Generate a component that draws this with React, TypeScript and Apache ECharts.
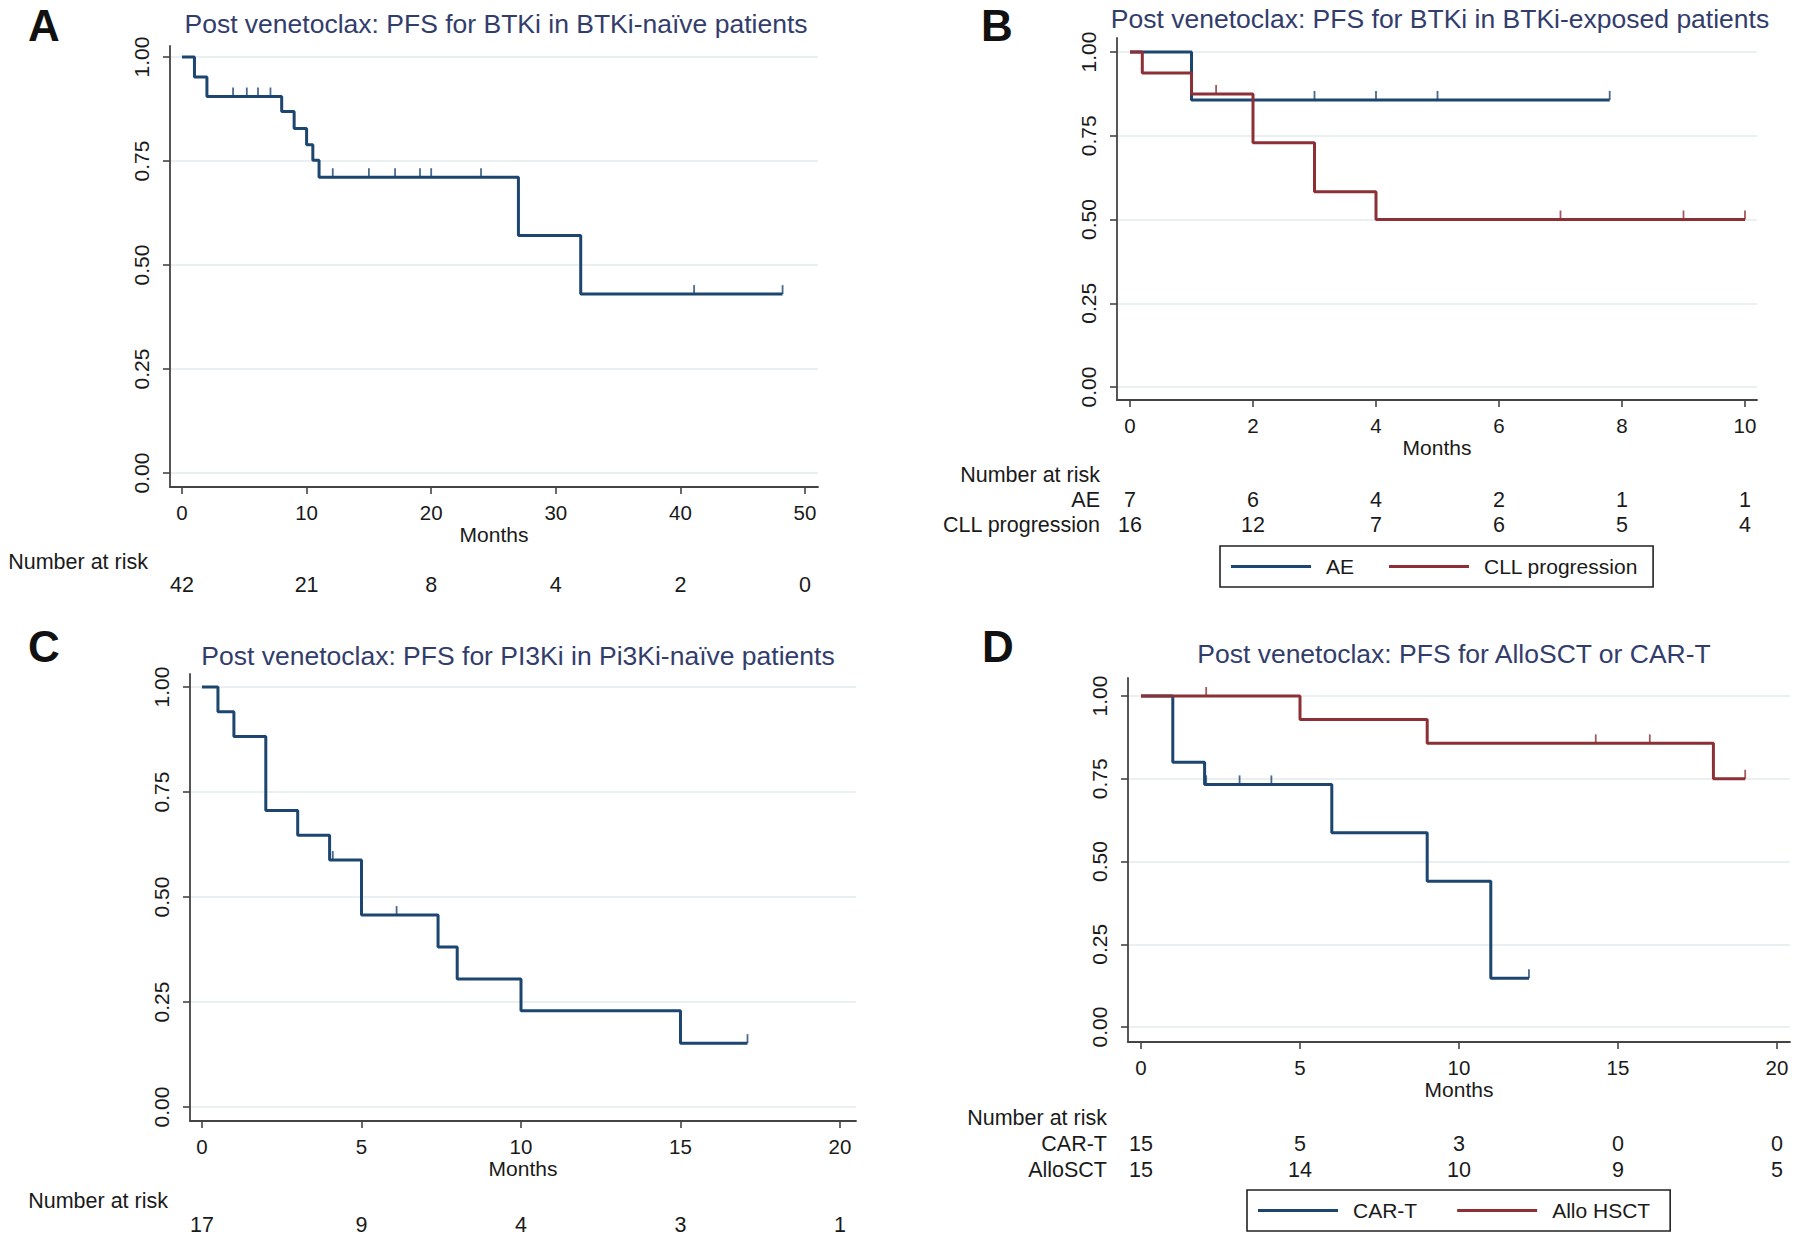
import React, { useEffect, useRef } from 'react';
import * as echarts from 'echarts';

// ---------- DATA ----------
// Panel A: BTKi in BTKi-naive
const aTimes = [0, 1, 2, 8, 9, 10, 10.5, 11, 27, 32, 48.2];
const aSurv = [1, 0.952, 0.905, 0.869, 0.828, 0.789, 0.752, 0.711, 0.571, 0.43, 0.43];
const aCensor = [4.1, 5.2, 6.1, 7.1, 12.1, 15.0, 17.1, 19.1, 20.0, 24.0, 41.1, 48.2];
const aRiskX = [0, 10, 20, 30, 40, 50];
const aRisk = [42, 21, 8, 4, 2, 0];

// Panel B: BTKi in BTKi-exposed
const bAeTimes = [0, 1, 7.8];
const bAeSurv = [1, 0.857, 0.857];
const bAeCensor = [3, 4, 5, 7.8];
const bCllTimes = [0, 0.2, 1, 2, 3, 4, 10];
const bCllSurv = [1, 0.9375, 0.875, 0.729, 0.583, 0.5, 0.5];
const bCllCensor = [1.4, 3, 7, 9, 10];
const bRiskX = [0, 2, 4, 6, 8, 10];
const bAeRisk = [7, 6, 4, 2, 1, 1];
const bCllRisk = [16, 12, 7, 6, 5, 4];

// Panel C: PI3Ki in PI3Ki-naive
const cTimes = [0, 0.5, 1, 2, 3, 4, 5, 7.4, 8, 10, 15, 17.1];
const cSurv = [1, 0.941, 0.882, 0.706, 0.647, 0.588, 0.457, 0.381, 0.305, 0.229, 0.152, 0.152];
const cCensor = [4.1, 6.1, 17.1];
const cRiskX = [0, 5, 10, 15, 20];
const cRisk = [17, 9, 4, 3, 1];

// Panel D: AlloSCT or CAR-T
const dCarTimes = [0, 1, 2, 6, 9, 11, 12.2];
const dCarSurv = [1, 0.8, 0.733, 0.587, 0.44, 0.147, 0.147];
const dCarCensor = [2.05, 3.1, 4.1, 12.2];
const dAlloTimes = [0, 5, 9, 18, 19];
const dAlloSurv = [1, 0.929, 0.857, 0.75, 0.75];
const dAlloCensor = [2.05, 14.3, 16, 19];
const dRiskX = [0, 5, 10, 15, 20];
const dCarRisk = [15, 5, 3, 0, 0];
const dAlloRisk = [15, 14, 10, 9, 5];

const yTicks = [0, 0.25, 0.5, 0.75, 1];
const titles = [
  'Post venetoclax: PFS for BTKi in BTKi-naïve patients',
  'Post venetoclax: PFS for BTKi in BTKi-exposed patients',
  'Post venetoclax: PFS for PI3Ki in Pi3Ki-naïve patients',
  'Post venetoclax: PFS for AlloSCT or CAR-T',
];
const letters = ['A', 'B', 'C', 'D'];

// ---------- STYLE ----------
const FONT = '"Liberation Sans", Arial, Helvetica, sans-serif';
const BLUE = '#1c4570';
const RED = '#8c3036';
const TITLEC = '#323d6c';
const TEXT = '#1a1a1a';
const AXIS = '#444444';
const GRIDC = '#e3eaed';

function stepAt(times: number[], surv: number[], t: number) {
  let v = surv[0];
  for (let i = 0; i < times.length; i++) if (times[i] <= t) v = surv[i];
  return v;
}

type Curve = { name: string; times: number[]; surv: number[]; censor: number[]; color: string };
type RiskRow = { label: string; values: number[] };

const panels: any[] = [
  {
    layout: { left: 170, top: 46, width: 648, height: 441, x0px: 182, x1px: 805, xEnd: 50, y1px: 57, y0px: 473,
      riskTop: 550.5, riskHeight: 46, riskMargin: 22, title: [496, 24], letter: [44, 25] },
    xTicks: [0, 10, 20, 30, 40, 50],
    curves: [{ name: 'BTKi', times: aTimes, surv: aSurv, censor: aCensor, color: BLUE }] as Curve[],
    riskX: aRiskX,
    riskRows: [{ label: 'Number at risk', values: [] }, { label: ' ', values: aRisk }] as RiskRow[],
  },
  {
    layout: { left: 1117, top: 38, width: 640, height: 362, x0px: 1130, x1px: 1745, xEnd: 10, y1px: 52, y0px: 387,
      riskTop: 462.5, riskHeight: 75, riskMargin: 17, title: [1440, 19], letter: [997, 25],
      legend: { left: 1220, top: 546, gap: 35, pad: [10, 15, 10, 11] } },
    xTicks: [0, 2, 4, 6, 8, 10],
    curves: [
      { name: 'AE', times: bAeTimes, surv: bAeSurv, censor: bAeCensor, color: BLUE },
      { name: 'CLL progression', times: bCllTimes, surv: bCllSurv, censor: bCllCensor, color: RED },
    ] as Curve[],
    riskX: bRiskX,
    riskRows: [
      { label: 'Number at risk', values: [] },
      { label: 'AE', values: bAeRisk },
      { label: 'CLL progression', values: bCllRisk },
    ] as RiskRow[],
  },
  {
    layout: { left: 190, top: 674, width: 666, height: 447, x0px: 202, x1px: 840, xEnd: 20, y1px: 687, y0px: 1107,
      riskTop: 1189, riskHeight: 48, riskMargin: 22, title: [518, 656], letter: [44, 646] },
    xTicks: [0, 5, 10, 15, 20],
    curves: [{ name: 'PI3Ki', times: cTimes, surv: cSurv, censor: cCensor, color: BLUE }] as Curve[],
    riskX: cRiskX,
    riskRows: [{ label: 'Number at risk', values: [] }, { label: ' ', values: cRisk }] as RiskRow[],
  },
  {
    layout: { left: 1128, top: 678, width: 662, height: 364, x0px: 1141, x1px: 1777, xEnd: 20, y1px: 696, y0px: 1027,
      riskTop: 1105, riskHeight: 78, riskMargin: 21, title: [1454, 654], letter: [998, 646],
      legend: { left: 1247, top: 1190, gap: 40, pad: [10, 20, 10, 11] } },
    xTicks: [0, 5, 10, 15, 20],
    curves: [
      { name: 'CAR-T', times: dCarTimes, surv: dCarSurv, censor: dCarCensor, color: BLUE },
      { name: 'Allo HSCT', times: dAlloTimes, surv: dAlloSurv, censor: dAlloCensor, color: RED },
    ] as Curve[],
    riskX: dRiskX,
    riskRows: [
      { label: 'Number at risk', values: [] },
      { label: 'CAR-T', values: dCarRisk },
      { label: 'AlloSCT', values: dAlloRisk },
    ] as RiskRow[],
  },
];

function buildOption() {
  const grid: any[] = [];
  const xAxis: any[] = [];
  const yAxis: any[] = [];
  const series: any[] = [];
  const legend: any[] = [];
  const graphic: any[] = [];

  panels.forEach((p, i) => {
    const L = p.layout;
    const xs = (L.x1px - L.x0px) / L.xEnd;
    const xmin = -(L.x0px - L.left) / xs;
    const xmax = (L.left + L.width - L.x0px) / xs;
    const ys = L.y0px - L.y1px;
    const ymax = 1 + (L.y1px - L.top) / ys;
    const ymin = -(L.top + L.height - L.y0px) / ys;

    // main grid
    grid.push({ left: L.left, top: L.top, width: L.width, height: L.height, containLabel: false });
    const gi = grid.length - 1;
    xAxis.push({
      gridIndex: gi, type: 'value', min: xmin, max: xmax,
      axisLine: { show: true, onZero: false, lineStyle: { color: AXIS, width: 1.8 } },
      axisTick: { show: true, length: 7, customValues: p.xTicks, lineStyle: { color: AXIS, width: 1.6 } },
      axisLabel: { customValues: p.xTicks, margin: 15, fontSize: 20.5, color: TEXT, fontFamily: FONT },
      splitLine: { show: false },
      name: 'Months', nameLocation: 'middle', nameGap: 36,
      nameTextStyle: { fontSize: 21, color: TEXT, fontFamily: FONT },
    });
    yAxis.push({
      gridIndex: gi, type: 'value', min: ymin, max: ymax,
      axisLine: { show: true, onZero: false, lineStyle: { color: AXIS, width: 1.8 } },
      axisTick: { show: true, length: 7, customValues: yTicks, lineStyle: { color: AXIS, width: 1.6 } },
      axisLabel: { customValues: yTicks, rotate: 90, margin: 18, fontSize: 21, color: TEXT, fontFamily: FONT,
        formatter: (v: number) => v.toFixed(2) },
      splitLine: { show: true, lineStyle: { color: GRIDC, width: 1.5 } },
    });
    const xi = xAxis.length - 1;
    const yi = yAxis.length - 1;

    p.curves.forEach((c: Curve) => {
      series.push({
        name: c.name, type: 'line', xAxisIndex: xi, yAxisIndex: yi, step: 'end', showSymbol: false,
        color: c.color, lineStyle: { color: c.color, width: 3 }, z: 3,
        data: c.times.map((t, k) => [t, c.surv[k]]),
      });
      series.push({
        name: c.name + ' censored', type: 'scatter', xAxisIndex: xi, yAxisIndex: yi,
        symbol: 'rect', symbolSize: [1.8, 9], symbolOffset: [0, -4.5],
        itemStyle: { color: c.color }, z: 4,
        data: c.censor.map((t) => [t, stepAt(c.times, c.surv, t)]),
      });
    });

    // risk table grid
    grid.push({ left: L.left, top: L.riskTop, width: L.width, height: L.riskHeight, containLabel: false });
    const ri = grid.length - 1;
    xAxis.push({ gridIndex: ri, type: 'value', min: xmin, max: xmax, show: false });
    yAxis.push({
      gridIndex: ri, type: 'category', inverse: true,
      data: p.riskRows.map((r: RiskRow) => r.label),
      axisLine: { show: false }, axisTick: { show: false }, splitLine: { show: false },
      axisLabel: { interval: 0, margin: L.riskMargin, fontSize: 21.5, color: TEXT, fontFamily: FONT },
    });
    const rxi = xAxis.length - 1;
    const ryi = yAxis.length - 1;
    p.riskRows.forEach((r: RiskRow) => {
      if (!r.values.length) return;
      series.push({
        name: 'risk ' + i + ' ' + r.label, type: 'scatter', xAxisIndex: rxi, yAxisIndex: ryi,
        symbolSize: 1, itemStyle: { color: '#ffffff', opacity: 0 },
        label: { show: true, position: 'top', distance: 0, verticalAlign: 'middle', align: 'center',
          formatter: (q: any) => String(q.value[2]),
          fontSize: 21.5, color: TEXT, fontFamily: FONT, textBorderWidth: 0, opacity: 1 },
        data: p.riskX.map((x: number, k: number) => [x, r.label, r.values[k]]),
      });
    });

    if (L.legend) {
      legend.push({
        data: p.curves.map((c: Curve) => c.name),
        left: L.legend.left, top: L.legend.top, orient: 'horizontal',
        padding: L.legend.pad, itemGap: L.legend.gap, itemWidth: 80, itemHeight: 3, icon: 'rect',
        borderColor: '#222', borderWidth: 1.6, selectedMode: false,
        textStyle: { fontSize: 21, color: TEXT, fontFamily: FONT, padding: [0, 0, 0, 10] },
      });
    }

    graphic.push({
      type: 'text', x: L.title[0], y: L.title[1],
      style: { text: titles[i], fill: TITLEC, fontSize: 26.5, fontFamily: FONT, align: 'center', verticalAlign: 'middle' },
    });
    graphic.push({
      type: 'text', x: L.letter[0], y: L.letter[1],
      style: { text: letters[i], fill: '#111', fontSize: 44, fontWeight: 'bold', fontFamily: FONT, align: 'center', verticalAlign: 'middle' },
    });
  });

  return {
    animation: false,
    backgroundColor: '#ffffff',
    grid, xAxis, yAxis, series, legend, graphic,
  };
}

export default function App() {
  const ref = useRef<HTMLDivElement>(null);
  useEffect(() => {
    document.body.style.margin = '0';
    const chart = echarts.init(ref.current!, undefined, { renderer: 'svg' });
    chart.setOption(buildOption() as any);
    return () => chart.dispose();
  }, []);
  return <div ref={ref} style={{ width: 1800, height: 1245, background: '#fff' }} />;
}
